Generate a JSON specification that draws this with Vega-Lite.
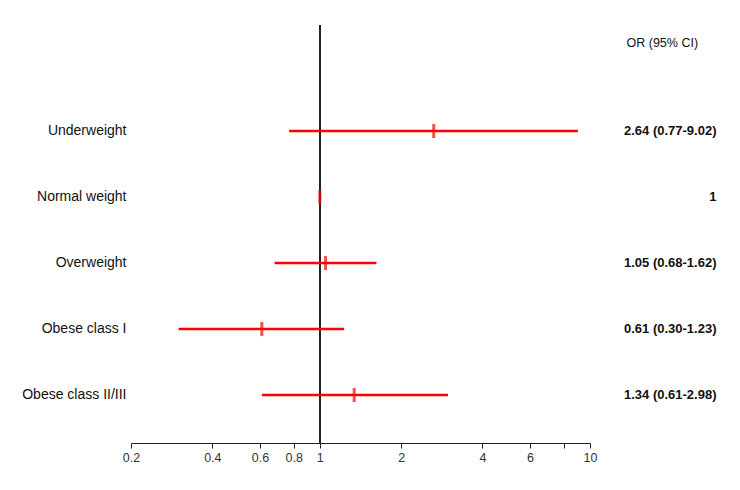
{
  "$schema": "https://vega.github.io/schema/vega-lite/v6.json",
  "autosize": {"type": "none"},
  "padding": {"left": 131, "top": 25, "right": 150, "bottom": 47},
  "width": 459,
  "height": 418,
  "background": "white",
  "config": {
    "view": {"stroke": null},
    "font": "Liberation Sans"
  },
  "data": {
    "values": [
      {"group": "Underweight", "or": 2.64, "lo": 0.77, "hi": 9.02, "ci": "2.64 (0.77-9.02)"},
      {"group": "Normal weight", "or": 1, "lo": 1, "hi": 1, "ci": "1"},
      {"group": "Overweight", "or": 1.05, "lo": 0.68, "hi": 1.62, "ci": "1.05 (0.68-1.62)"},
      {"group": "Obese class I", "or": 0.61, "lo": 0.30, "hi": 1.23, "ci": "0.61 (0.30-1.23)"},
      {"group": "Obese class II/III", "or": 1.34, "lo": 0.61, "hi": 2.98, "ci": "1.34 (0.61-2.98)"}
    ]
  },
  "layer": [
    {
      "mark": {"type": "rule", "color": "#222222", "strokeWidth": 1.5},
      "encoding": {
        "x": {"datum": 1, "type": "quantitative", "scale": {"type": "log", "domain": [0.2, 10], "nice": false}}
      }
    },
    {
      "mark": {"type": "rule", "color": "#ff0000", "strokeWidth": 2.5},
      "encoding": {
        "x": {
          "field": "lo", "type": "quantitative",
          "scale": {"type": "log", "domain": [0.2, 10], "nice": false},
          "axis": {
            "title": null, "grid": false,
            "values": [0.2, 0.4, 0.6, 0.8, 1, 2, 4, 6, 8, 10],
            "labelExpr": "datum.value == 8 ? '' : datum.label",
            "format": "~g",
            "labelFlush": false, "labelOverlap": false,
            "tickSize": 5, "tickColor": "#222222", "domainColor": "#222222",
            "labelFontSize": 12.5, "labelColor": "#333333", "labelPadding": 3
          }
        },
        "x2": {"field": "hi"},
        "y": {
          "field": "group", "type": "nominal",
          "sort": ["Underweight", "Normal weight", "Overweight", "Obese class I", "Obese class II/III"],
          "scale": {"type": "band", "paddingInner": 0, "paddingOuter": 0.667, "align": 0.83},
          "axis": {
            "title": null, "domain": false, "ticks": false, "tickSize": 0,
            "labelPadding": 5, "labelFontSize": 14, "labelColor": "#111111"
          }
        }
      }
    },
    {
      "mark": {"type": "tick", "color": "#ff0000", "thickness": 3, "size": 14},
      "encoding": {
        "x": {"field": "or", "type": "quantitative", "scale": {"type": "log", "domain": [0.2, 10], "nice": false}},
        "y": {
          "field": "ci", "type": "nominal",
          "sort": ["2.64 (0.77-9.02)", "1", "1.05 (0.68-1.62)", "0.61 (0.30-1.23)", "1.34 (0.61-2.98)"],
          "scale": {"type": "band", "paddingInner": 0, "paddingOuter": 0.667, "align": 0.83},
          "axis": {
            "orient": "right", "domain": false, "ticks": false, "tickSize": 0,
            "labelAlign": "right", "labelPadding": 126,
            "labelFontSize": 13, "labelFontWeight": "bold", "labelColor": "#111111",
            "title": "OR (95% CI)", "titleAngle": 0, "titleAlign": "left", "titleBaseline": "middle",
            "titleX": 36, "titleY": 17, "titleFontSize": 12.5, "titleFontWeight": "normal", "titleColor": "#111111"
          }
        }
      }
    }
  ],
  "resolve": {"scale": {"y": "independent"}, "axis": {"y": "independent"}}
}
